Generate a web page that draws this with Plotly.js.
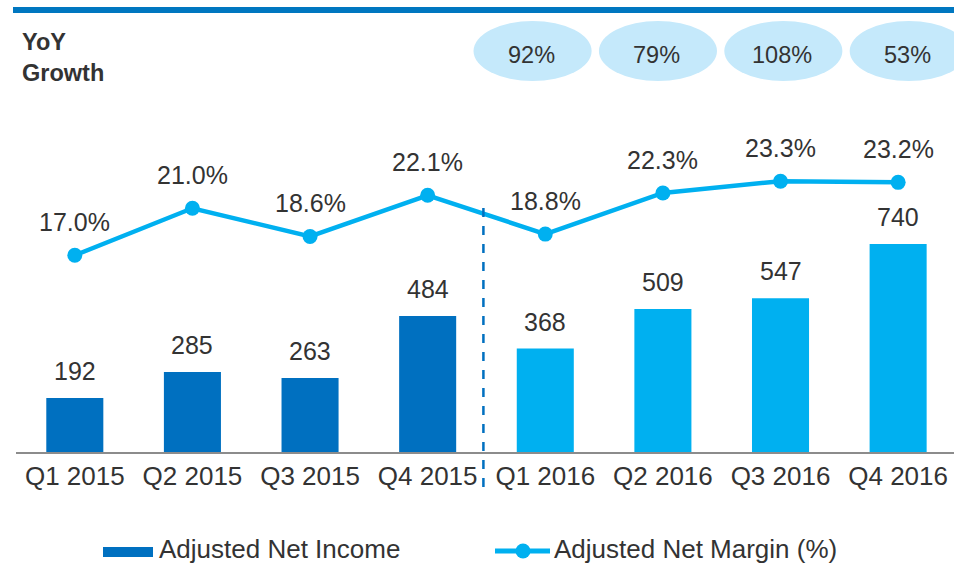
<!DOCTYPE html>
<html>
<head>
<meta charset="utf-8">
<script src="https://cdn.plot.ly/plotly-3.0.1.min.js"></script>
<style>html,body{margin:0;padding:0;background:#fff;}#chart{width:954px;height:564px;}</style>
</head>
<body>
<div id="chart"></div>
<script>
const categories = ['Q1 2015','Q2 2015','Q3 2015','Q4 2015','Q1 2016','Q2 2016','Q3 2016','Q4 2016'];
const netIncome = [192, 285, 263, 484, 368, 509, 547, 740];
const netMargin = [17.0, 21.0, 18.6, 22.1, 18.8, 22.3, 23.3, 23.2];
const yoyGrowth = [92, 79, 108, 53]; // Q1-Q4 2016
const legendNames = ['Adjusted Net Income', 'Adjusted Net Margin (%)'];

const DARK = '#0070C0', LIGHT = '#00B0F0', TXT = '#333333';
const FONT = 'Liberation Sans, Arial, sans-serif';
const W = 954, L = 16, TOP = 100, BOT = 452, PH = BOT - TOP, PW = W - L;
const px2paperX = p => (p - L) / PW;
const px2paperY = p => (BOT - p) / PH;

const barColors = categories.map(c => c.indexOf('2015') >= 0 ? DARK : LIGHT);

const traces = [
  {type:'bar', x: categories, y: netIncome, marker:{color: barColors}, width: 0.485,
   name: legendNames[0], hoverinfo:'skip'},
  {type:'scatter', mode:'lines+markers', x: categories, y: netMargin, yaxis:'y2',
   line:{color: LIGHT, width: 4.5}, marker:{color: LIGHT, size: 15},
   name: legendNames[1], hoverinfo:'skip'}
];

const annotations = [];
categories.forEach((c, i) => {
  annotations.push({x: c, y: netIncome[i], xref:'x', yref:'y', text: String(netIncome[i]),
    showarrow:false, yanchor:'middle', yshift: 27, font:{family: FONT, size: 25, color: TXT}});
  annotations.push({x: c, y: netMargin[i], xref:'x', yref:'y2', text: netMargin[i].toFixed(1) + '%',
    showarrow:false, yanchor:'middle', yshift: 33, font:{family: FONT, size: 25, color: TXT}});
});

const shapes = [];
// top rule
shapes.push({type:'rect', xref:'paper', yref:'paper', x0: px2paperX(13), x1: 1.05,
  y0: px2paperY(13), y1: px2paperY(7), fillcolor:'#0077C0', line:{width:0}, layer:'above'});
// YoY growth ellipses (over 2016 quarters)
const ellStart = 3.892, ellStep = 1.066;
yoyGrowth.forEach((g, k) => {
  const cx = ellStart + k * ellStep;
  shapes.push({type:'circle', xref:'x', yref:'paper', x0: cx - 0.502, x1: cx + 0.502,
    y0: px2paperY(81), y1: px2paperY(21), fillcolor:'#C5E9FB', line:{width:0}, layer:'below'});
  annotations.push({x: cx - 0.01, y: px2paperY(55.5), xref:'x', yref:'paper', text: g + '%',
    showarrow:false, xanchor:'center', yanchor:'middle', font:{family: FONT, size: 23.5, color: TXT}});
});
annotations.push({x: px2paperX(20), y: px2paperY(57), xref:'paper', yref:'paper',
  text:'<b>YoY</b><br><b>Growth</b>', align:'left', showarrow:false, xanchor:'left', yanchor:'middle',
  font:{family: FONT, size: 23.5, color: TXT}});
// dashed divider between 2015 and 2016
shapes.push({type:'line', xref:'x', yref:'paper', x0: 3.474, x1: 3.474,
  y0: px2paperY(487), y1: px2paperY(204), line:{color: DARK, width: 2.5, dash:'dash'}});
// custom legend
shapes.push({type:'rect', xref:'paper', yref:'paper', x0: px2paperX(103), x1: px2paperX(153),
  y0: px2paperY(557), y1: px2paperY(547), fillcolor: DARK, line:{width:0}});
annotations.push({x: px2paperX(158), y: px2paperY(549), xref:'paper', yref:'paper', text: legendNames[0],
  showarrow:false, xanchor:'left', yanchor:'middle', borderpad:0, font:{family: FONT, size: 26, color: TXT}});
shapes.push({type:'line', xref:'paper', yref:'paper', x0: px2paperX(495), x1: px2paperX(550),
  y0: px2paperY(551), y1: px2paperY(551), line:{color: LIGHT, width: 5}});
shapes.push({type:'circle', xref:'paper', yref:'paper', x0: px2paperX(515.5), x1: px2paperX(530.5),
  y0: px2paperY(558.5), y1: px2paperY(543.5), fillcolor: LIGHT, line:{width:0}});
annotations.push({x: px2paperX(553), y: px2paperY(549), xref:'paper', yref:'paper', text: legendNames[1],
  showarrow:false, xanchor:'left', yanchor:'middle', borderpad:0, font:{family: FONT, size: 26, color: TXT}});

const layout = {
  width: 954, height: 564,
  margin: {l: L, r: 0, t: TOP, b: 564 - BOT, pad: 0},
  paper_bgcolor:'#fff', plot_bgcolor:'#fff',
  showlegend: false,
  font: {family: FONT, color: TXT},
  xaxis: {type:'category', range:[-0.5, 7.475], showgrid:false, zeroline:false,
    showline:true, linecolor:'#8C8C8C', linewidth:2, ticks:'', ticklabelstandoff: 0,
    tickfont:{family: FONT, size: 26, color: TXT}, fixedrange:true},
  yaxis: {range:[0, 1253], visible:false, fixedrange:true},
  yaxis2: {range:[0.255, 30.21], overlaying:'y', side:'right', visible:false, fixedrange:true},
  shapes: shapes,
  annotations: annotations
};

Plotly.newPlot('chart', traces, layout, {staticPlot:true, displayModeBar:false});
</script>
</body>
</html>
